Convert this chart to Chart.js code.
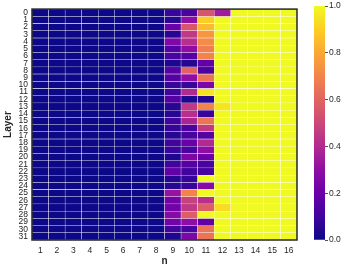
<!DOCTYPE html>
<html>
<head>
<meta charset="utf-8">
<script src="https://cdn.jsdelivr.net/npm/chart.js@4/dist/chart.umd.min.js"></script>
<style>
  html, body { margin: 0; padding: 0; background: #fff; }
  #wrap { position: relative; width: 345px; height: 266px; }
  #heatBox { position: absolute; left: 0; top: 0; width: 300px; height: 266px; }
  #barBox { position: absolute; left: 300px; top: 0; width: 45px; height: 266px; }
</style>
</head>
<body>
<div id="wrap">
  <div id="heatBox"><canvas id="heat"></canvas></div>
  <div id="barBox"><canvas id="cbar"></canvas></div>
</div>
<script>
// axes
const nLabels = ['1','2','3','4','5','6','7','8','9','10','11','12','13','14','15','16'];
const layers = [0,1,2,3,4,5,6,7,8,9,10,11,12,13,14,15,16,17,18,19,20,21,22,23,24,25,26,27,28,29,30,31];
const cbarTicks = [0, 0.2, 0.4, 0.6, 0.8, 1.0];

// values per layer (n = 1..16)
const layer0  = [0,0,0,0,0,0,0,0,0.08,0.12,0.55,0.35,1,1,1,1];
const layer1  = [0,0,0,0,0,0,0,0,0.05,0.30,0.90,1,1,1,1,1];
const layer2  = [0,0,0,0,0,0,0,0,0.20,0.55,0.85,1,1,1,1,1];
const layer3  = [0,0,0,0,0,0,0,0,0.05,0.45,0.75,1,1,1,1,1];
const layer4  = [0,0,0,0,0,0,0,0,0.26,0.42,0.72,1,1,1,1,1];
const layer5  = [0,0,0,0,0,0,0,0,0.15,0.30,0.68,1,1,1,1,1];
const layer6  = [0,0,0,0,0,0,0,0,0.12,0.15,0.70,1,1,1,1,1];
const layer7  = [0,0,0,0,0,0,0,0,0.03,0.05,0.18,1,1,1,1,1];
const layer8  = [0,0,0,0,0,0,0,0,0.15,0.60,0.12,1,1,1,1,1];
const layer9  = [0,0,0,0,0,0,0,0,0.15,0.30,0.65,1,1,1,1,1];
const layer10 = [0,0,0,0,0,0,0,0,0.08,0.08,0.25,1,1,1,1,1];
const layer11 = [0,0,0,0,0,0,0,0,0.10,0.40,0.95,1,1,1,1,1];
const layer12 = [0,0,0,0,0,0,0,0,0.15,0.03,0.05,1,1,1,1,1];
const layer13 = [0,0,0,0,0,0,0,0,0.05,0.45,0.70,0.95,1,1,1,1];
const layer14 = [0,0,0,0,0,0,0,0,0.05,0.42,0.08,1,1,1,1,1];
const layer15 = [0,0,0,0,0,0,0,0,0.10,0.38,0.65,1,1,1,1,1];
const layer16 = [0,0,0,0,0,0,0,0,0.08,0.12,0.45,1,1,1,1,1];
const layer17 = [0,0,0,0,0,0,0,0,0.05,0.12,0.15,1,1,1,1,1];
const layer18 = [0,0,0,0,0,0,0,0,0.10,0.20,0.40,1,1,1,1,1];
const layer19 = [0,0,0,0,0,0,0,0,0.08,0.12,0.30,1,1,1,1,1];
const layer20 = [0,0,0,0,0,0,0,0,0.03,0.25,0.20,1,1,1,1,1];
const layer21 = [0,0,0,0,0,0,0,0,0.10,0.15,0.12,1,1,1,1,1];
const layer22 = [0,0,0,0,0,0,0,0,0.18,0.10,0.12,1,1,1,1,1];
const layer23 = [0,0,0,0,0,0,0,0,0.05,0.08,1.00,1,1,1,1,1];
const layer24 = [0,0,0,0,0,0,0,0,0.05,0.08,0.28,1,1,1,1,1];
const layer25 = [0,0,0,0,0,0,0,0,0.32,0.70,1.00,1,1,1,1,1];
const layer26 = [0,0,0,0,0,0,0,0,0.22,0.48,0.42,1,1,1,1,1];
const layer27 = [0,0,0,0,0,0,0,0,0.22,0.45,0.58,0.93,1,1,1,1];
const layer28 = [0,0,0,0,0,0,0,0,0.28,0.58,1.00,1,1,1,1,1];
const layer29 = [0,0,0,0,0,0,0,0,0.22,0.30,0.18,1,1,1,1,1];
const layer30 = [0,0,0,0,0,0,0,0,0.10,0.12,0.65,1,1,1,1,1];
const layer31 = [0,0,0,0,0,0,0,0,0.03,0.25,0.65,1,1,1,1,1];
const rows = [layer0,layer1,layer2,layer3,layer4,layer5,layer6,layer7,layer8,layer9,
  layer10,layer11,layer12,layer13,layer14,layer15,layer16,layer17,layer18,layer19,
  layer20,layer21,layer22,layer23,layer24,layer25,layer26,layer27,layer28,layer29,
  layer30,layer31];

// plasma colormap stops
const plasma = ['#0d0887','#41049d','#6a00a8','#8f0da4','#b12a90','#cc4778',
  '#e16462','#f2844b','#fca636','#fcce25','#f0f921'];

function hexRgb(h) {
  return [parseInt(h.slice(1,3),16), parseInt(h.slice(3,5),16), parseInt(h.slice(5,7),16)];
}
function plasmaColor(v) {
  v = Math.max(0, Math.min(1, v));
  const p = v * (plasma.length - 1);
  const i = Math.min(Math.floor(p), plasma.length - 2);
  const t = p - i;
  const a = hexRgb(plasma[i]), b = hexRgb(plasma[i + 1]);
  const c = a.map((x, k) => Math.round(x + (b[k] - x) * t));
  return `rgb(${c[0]},${c[1]},${c[2]})`;
}

const font = 'Liberation Sans, Arial, sans-serif';
const tickColor = '#262626';

// each layer is one dataset of floating bars spanning its row
const datasets = rows.map((vals, r) => ({
  data: vals.map(() => [layers[r] - 0.5, layers[r] + 0.5]),
  backgroundColor: vals.map(v => plasmaColor(v)),
  borderColor: 'rgba(255,255,255,0.6)',
  borderWidth: 0.5,
  borderSkipped: false,
  barPercentage: 1,
  categoryPercentage: 1,
  grouped: false
}));

const framePlugin = {
  id: 'frame',
  afterDatasetsDraw(chart) {
    const a = chart.chartArea, ctx = chart.ctx;
    ctx.save();
    ctx.strokeStyle = '#262626';
    ctx.lineWidth = 1.5;
    ctx.strokeRect(a.left, a.top, a.right - a.left, a.bottom - a.top);
    ctx.restore();
  }
};

new Chart(document.getElementById('heat'), {
  type: 'bar',
  data: { labels: nLabels, datasets: datasets },
  plugins: [framePlugin],
  options: {
    responsive: true,
    maintainAspectRatio: false,
    animation: false,
    layout: { padding: { top: 5, right: 3, left: 0, bottom: 0 } },
    plugins: { legend: { display: false }, tooltip: { enabled: false } },
    scales: {
      x: {
        grid: { display: false, drawTicks: false },
        border: { display: false },
        ticks: { color: tickColor, font: { family: font, size: 8.5 }, padding: 6, maxRotation: 0 },
        title: { display: true, text: 'n', color: tickColor, padding: { top: 0, bottom: -1 },
                 font: { family: font, size: 10, weight: 'bold' } },
        afterFit(s) { s.height = 26; }
      },
      y: {
        reverse: true,
        min: -0.5,
        max: 31.5,
        grid: { display: false, drawTicks: false },
        border: { display: false },
        afterBuildTicks(s) { s.ticks = layers.map(v => ({ value: v })); },
        ticks: { color: tickColor, font: { family: font, size: 8.5 }, padding: 4, autoSkip: false },
        title: { display: true, text: 'Layer', color: tickColor, padding: { top: 2, bottom: 0 },
                 font: { family: font, size: 10, weight: 'bold' } },
        afterFit(s) { s.width = 32; }
      }
    }
  }
});

// colour bar
new Chart(document.getElementById('cbar'), {
  type: 'bar',
  data: {
    labels: [''],
    datasets: [{
      data: [[cbarTicks[0], cbarTicks[cbarTicks.length - 1]]],
      backgroundColor(ctx) {
        const c = ctx.chart, a = c.chartArea;
        if (!a) return plasma[0];
        const g = c.ctx.createLinearGradient(0, a.bottom, 0, a.top);
        plasma.forEach((col, i) => g.addColorStop(i / (plasma.length - 1), col));
        return g;
      },
      borderWidth: 0,
      barPercentage: 1,
      categoryPercentage: 1
    }]
  },
  options: {
    responsive: true,
    maintainAspectRatio: false,
    animation: false,
    layout: { padding: { top: 5, bottom: 26, left: 14, right: 0 } },
    plugins: { legend: { display: false }, tooltip: { enabled: false } },
    scales: {
      x: { display: false },
      y: {
        position: 'right',
        min: 0,
        max: 1,
        afterBuildTicks(s) { s.ticks = cbarTicks.map(v => ({ value: v })); },
        grid: { drawOnChartArea: false, tickLength: 3, tickColor: tickColor, tickWidth: 0.8 },
        border: { display: false },
        ticks: { color: tickColor, font: { family: font, size: 8.5 }, padding: 1,
                 callback: v => Number(v).toFixed(1) },
        afterFit(s) { s.width = 20; }
      }
    }
  }
});
</script>
</body>
</html>
